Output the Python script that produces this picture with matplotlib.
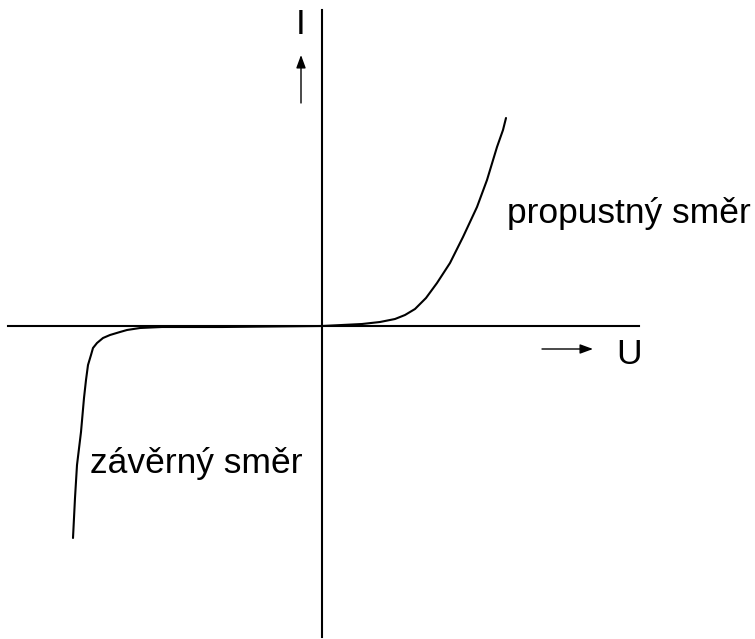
import matplotlib
matplotlib.use('Agg')
import matplotlib.pyplot as plt

plt.rcParams['font.family'] = ['Liberation Sans', 'DejaVu Sans']

# propustný směr (forward branch), U / I in drawing units
u_fwd = [0, 20, 40, 58, 73, 83, 93, 98, 104, 115, 128, 141, 155, 165, 175, 181, 184]
i_fwd = [0, 1, 2, 4, 7, 11, 17, 22, 28, 43, 63, 89, 119, 146, 179, 196, 208]

# závěrný směr (reverse branch)
u_rev = [0, -100, -160, -182, -195, -202, -212, -219, -225, -229, -231, -234,
         -236, -238, -241, -245, -247, -249]
i_rev = [0, -1, -1, -2, -4, -6, -9, -12, -17, -22, -29, -39,
         -54, -72, -106, -139, -172, -212]

fig = plt.figure(figsize=(7.55, 6.39), dpi=100)
ax = fig.add_axes([0, 0, 1, 1])
ax.set_xlim(-322, 433)
ax.set_ylim(-313, 326)
ax.axis('off')

# coordinate axes
ax.plot([-314, 317], [0, 0], color='black', lw=1.5)
ax.plot([0, 0], [-311, 316], color='black', lw=1.5)

# characteristic
ax.plot(u_fwd, i_fwd, color='black', lw=1.5, solid_capstyle='round',
        solid_joinstyle='round')
ax.plot(u_rev, i_rev, color='black', lw=1.5, solid_capstyle='round',
        solid_joinstyle='round')

arrow = dict(arrowstyle='-|>,head_length=0.6,head_width=0.22', color='black',
             lw=1.0, mutation_scale=13, shrinkA=0, shrinkB=0)
ax.annotate('', xy=(-21, 271), xytext=(-21, 223), arrowprops=arrow)
ax.annotate('', xy=(271, -23), xytext=(220, -23), arrowprops=arrow)

ax.text(-21, 301, 'I', fontsize=25.5, ha='center', va='center')
ax.text(307, -29, 'U', fontsize=25.5, ha='center', va='center')
ax.text(185, 103, 'propustný směr', fontsize=25.5, ha='left', va='baseline')
ax.text(-232, -147, 'závěrný směr', fontsize=25.5, ha='left', va='baseline')

fig.savefig('out.png', dpi=100, facecolor='white')
